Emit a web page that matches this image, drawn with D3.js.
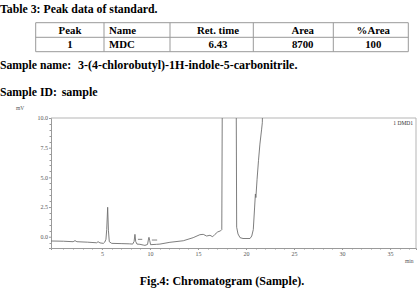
<!DOCTYPE html>
<html>
<head>
<meta charset="utf-8">
<script src="https://cdn.jsdelivr.net/npm/d3@7"></script>
<style>
  body { margin: 0; background: #fff; }
  svg { display: block; }
  svg text { font-family: "Liberation Serif", "Times New Roman", Times, serif; }
</style>
</head>
<body>
<div id="chart"></div>
<script>
// Table + sample info
const tableHeader = ["Peak", "Name", "Ret. time", "Area", "%Area"];
const tableRow = ["1", "MDC", "6.43", "8700", "100"];
const sampleName = "3-(4-chlorobutyl)-1H-indole-5-carbonitrile.";
const sampleId = "sample";

// Chromatogram trace (min, mV)
const times = [-0.3, 1.0, 2.0, 2.2, 2.4, 3.5, 4.45, 4.6, 4.8, 5.15, 5.3, 5.42, 5.5, 5.6, 5.68, 5.77, 6.02, 7.0, 7.9,
  8.2, 8.35, 8.44, 8.52, 8.65, 8.96, 9.3, 9.48, 9.75, 9.85, 9.9, 9.97, 10.07, 10.7, 11.04, 12.08, 13.47, 14.5,
  15.2, 15.55, 15.9, 16.25, 16.53, 16.77, 17.05, 17.36, 17.48, 17.55, 17.6, 18.9, 18.98, 19.03, 19.17, 19.38,
  19.69, 20.42, 20.6, 20.76, 20.9, 20.98, 21.03, 21.15, 21.3, 21.45, 21.62, 21.7, 21.75, 21.8, 37.7];
const signal = [-0.36, -0.38, -0.42, -0.33, -0.42, -0.46, -0.51, -0.42, -0.52, -0.56, -0.45, -0.22, 0.6, 2.48, 0.5, -0.42, -0.56, -0.58, -0.6,
  -0.62, -0.4, 0.2, -0.4, -0.62, -0.64, -0.7, -0.73, -0.65, -0.2, -0.05, -0.3, -0.67, -0.64, -0.62, -0.47, -0.34, -0.08,
  0.17, 0.2, 0.06, 0.12, 0.0, 0.2, 0.4, 0.5, 0.6, 15, 40, 40, 12, 0.8, 0.23, -0.08,
  -0.15, -0.15, 0.06, 0.6, 2.5, 3.6, 3.3, 4.8, 6.4, 7.8, 9.0, 9.6, 12, 40, 40];

// small integration marks near 10 min
const markStart = [8.75, 10.2];
const markEnd = [9.2, 10.75];
const markLevel = [-0.22, -0.28];

// axes
const yTickValues = [0, 2.5, 5, 7.5, 10];
const xTickValues = [5, 10, 15, 20, 25, 30, 35];
const xDomain = [-0.3, 37.7];
const yDomain = [-0.95, 10];

const width = 419;
const height = 293;
const plot = { left: 51, right: 416, top: 118, bottom: 248 };

const svg = d3.select("#chart")
  .append("svg")
  .attr("width", width)
  .attr("height", height);

// Title above table
svg.append("text")
  .attr("x", 0)
  .attr("y", 13)
  .attr("font-weight", "bold")
  .attr("font-size", 11.8)
  .text("Table 3: Peak data of standard.");

// Table grid
const colEdges = [35.7, 104, 170, 253.3, 333.3, 408.3];
const rowEdges = [22.7, 37.3, 51.7];
const colText = [70, 109, 218, 302.7, 373.3];
const colAnchor = ["middle", "start", "middle", "middle", "middle"];
const tableG = svg.append("g");

colEdges.forEach(x => {
  tableG.append("line")
    .attr("x1", x).attr("x2", x)
    .attr("y1", rowEdges[0]).attr("y2", rowEdges[2])
    .attr("stroke", "#999").attr("stroke-width", 1);
});
rowEdges.forEach(y => {
  tableG.append("line")
    .attr("x1", colEdges[0]).attr("x2", colEdges[colEdges.length - 1])
    .attr("y1", y).attr("y2", y)
    .attr("stroke", "#999").attr("stroke-width", 1);
});

[tableHeader, tableRow].forEach((row, r) => {
  tableG.selectAll(null)
    .data(row)
    .enter()
    .append("text")
    .attr("x", (d, i) => colText[i])
    .attr("y", r === 0 ? 33.5 : 47.5)
    .attr("text-anchor", (d, i) => colAnchor[i])
    .attr("font-weight", "bold")
    .attr("font-size", 10.8)
    .text(d => d);
});

// Sample lines
const nameText = svg.append("text")
  .attr("x", 0)
  .attr("y", 69)
  .attr("font-weight", "bold")
  .attr("font-size", 12);
nameText.append("tspan").attr("font-size", 11.7).text("Sample name:");
nameText.append("tspan").attr("x", 78).text(sampleName);

const idText = svg.append("text")
  .attr("x", 0)
  .attr("y", 96)
  .attr("font-weight", "bold")
  .attr("font-size", 12);
idText.append("tspan").attr("font-size", 11.7).text("Sample ID:");
idText.append("tspan").attr("x", 61.7).text(sampleId);

// Scales
const xScale = d3.scaleLinear().domain(xDomain).range([plot.left, plot.right]);
const yScale = d3.scaleLinear().domain(yDomain).range([plot.bottom, plot.top]);

const axisColor = "#9a9a9a";
const labelColor = "#555";

// frame: top and right border
svg.append("path")
  .attr("d", `M${plot.left},${plot.top}H${plot.right}V${plot.bottom}`)
  .attr("fill", "none")
  .attr("stroke", "#b5b5b5")
  .attr("stroke-width", 1);

// y axis
const yAxis = svg.append("g")
  .attr("transform", `translate(${plot.left},0)`)
  .call(d3.axisLeft(yScale).tickValues(yTickValues).tickSize(2).tickFormat(d3.format(".1f")).tickPadding(1));
yAxis.select(".domain").attr("stroke", axisColor);
yAxis.selectAll(".tick line").attr("stroke", axisColor);
yAxis.selectAll("text")
  .attr("font-size", 6)
  .attr("fill", labelColor);

// y minor ticks
svg.append("g")
  .selectAll("line")
  .data(d3.range(-0.5, 10, 0.5).filter(v => !yTickValues.includes(v)))
  .enter()
  .append("line")
  .attr("x1", plot.left - 1.5).attr("x2", plot.left)
  .attr("y1", d => Math.round(yScale(d)) + 0.5)
  .attr("y2", d => Math.round(yScale(d)) + 0.5)
  .attr("stroke", axisColor);

// x axis
const xAxis = svg.append("g")
  .attr("transform", `translate(0,${plot.bottom})`)
  .call(d3.axisBottom(xScale).tickValues(xTickValues).tickSize(2).tickFormat(d3.format("d")).tickPadding(2));
xAxis.select(".domain").attr("stroke", axisColor);
xAxis.selectAll(".tick line").attr("stroke", axisColor);
xAxis.selectAll("text")
  .attr("font-size", 6)
  .attr("fill", labelColor);

// x minor ticks
svg.append("g")
  .selectAll("line")
  .data(d3.range(1, 38, 1).filter(v => !xTickValues.includes(v)))
  .enter()
  .append("line")
  .attr("x1", d => Math.round(xScale(d)) + 0.5)
  .attr("x2", d => Math.round(xScale(d)) + 0.5)
  .attr("y1", plot.bottom).attr("y2", plot.bottom + 1.5)
  .attr("stroke", axisColor);

// axis unit labels
svg.append("text")
  .attr("x", 16).attr("y", 110)
  .attr("font-size", 5.5)
  .attr("fill", labelColor)
  .text("mV");
svg.append("text")
  .attr("x", 405).attr("y", 263)
  .attr("font-size", 5.5)
  .attr("fill", labelColor)
  .text("min");
svg.append("text")
  .attr("x", 413).attr("y", 125)
  .attr("text-anchor", "end")
  .attr("font-size", 5.5)
  .attr("fill", "#333")
  .text("1 DMD1");

// trace, clipped to plot area
svg.append("clipPath")
  .attr("id", "plot-clip")
  .append("rect")
  .attr("x", plot.left).attr("y", plot.top)
  .attr("width", plot.right - plot.left)
  .attr("height", plot.bottom - plot.top);

const points = times.map((t, i) => [t, signal[i]]);
const line = d3.line()
  .x(d => xScale(d[0]))
  .y(d => yScale(d[1]));

svg.append("path")
  .datum(points)
  .attr("clip-path", "url(#plot-clip)")
  .attr("fill", "none")
  .attr("stroke", "#6f6f6f")
  .attr("stroke-width", 0.9)
  .attr("d", line);

// integration marks
svg.append("g")
  .selectAll("line")
  .data(markStart)
  .enter()
  .append("line")
  .attr("x1", (d) => xScale(d))
  .attr("x2", (d, i) => xScale(markEnd[i]))
  .attr("y1", (d, i) => yScale(markLevel[i]))
  .attr("y2", (d, i) => yScale(markLevel[i]))
  .attr("stroke", "#666")
  .attr("stroke-width", 0.8);

// caption
svg.append("text")
  .attr("x", 222)
  .attr("y", 285)
  .attr("text-anchor", "middle")
  .attr("font-weight", "bold")
  .attr("font-size", 12)
  .text("Fig.4: Chromatogram (Sample).");
</script>
</body>
</html>
